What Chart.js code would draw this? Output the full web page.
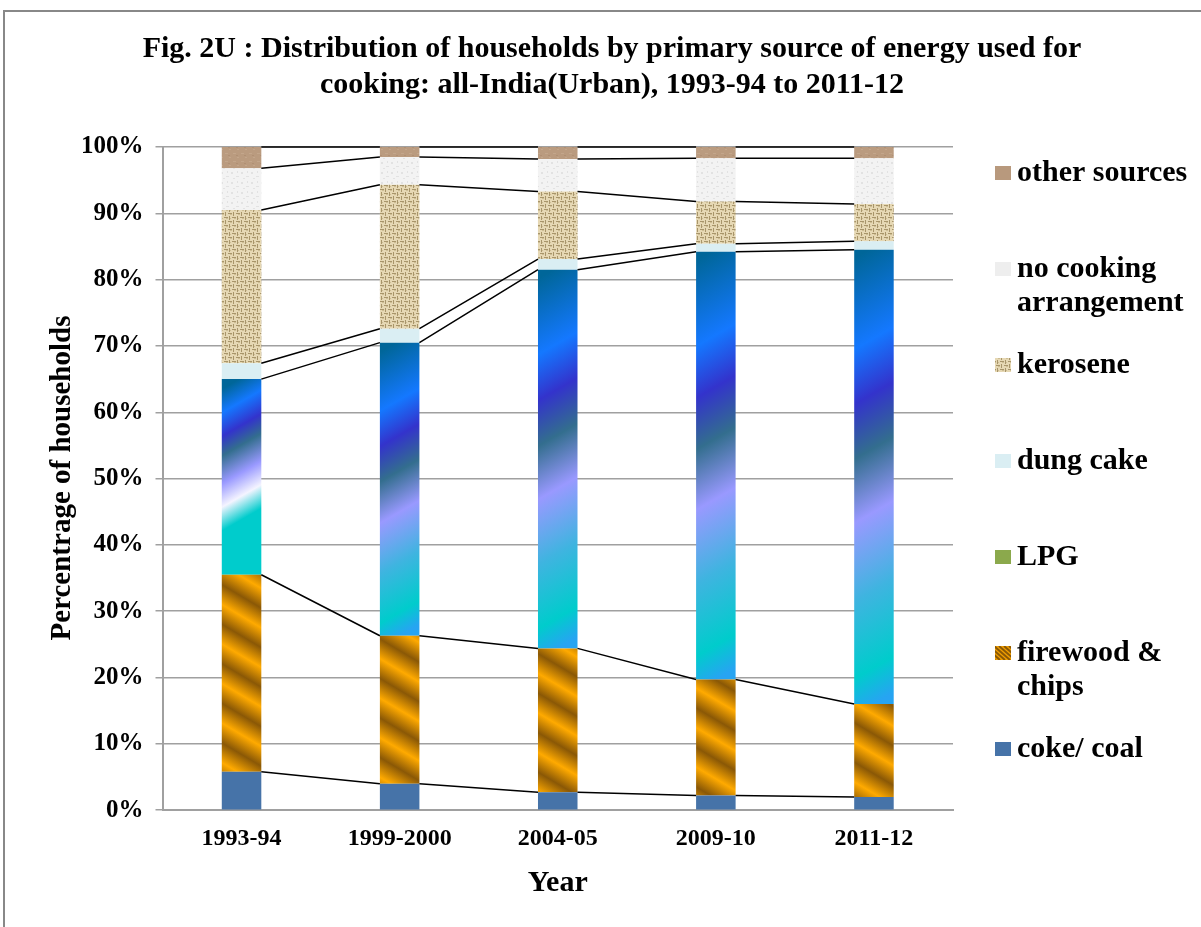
<!DOCTYPE html>
<html>
<head>
<meta charset="utf-8">
<script src="https://cdn.jsdelivr.net/npm/chart.js@4"></script>
<style>
  html, body { margin: 0; padding: 0; background: #fff; }
</style>
</head>
<body>
<canvas id="chart" width="1201" height="927"></canvas>
<script>
// Data (share of households, %)
const years = ['1993-94', '1999-2000', '2004-05', '2009-10', '2011-12'];
const cokeCoal = [5.8, 4.0, 2.7, 2.2, 2.0];
const firewood = [29.7, 22.3, 21.7, 17.5, 14.0];
const lpg = [29.5, 44.2, 57.1, 64.5, 68.5];
const dungCake = [2.4, 2.1, 1.6, 1.2, 1.3];
const kerosene = [23.1, 21.7, 10.2, 6.4, 5.6];
const noCooking = [6.3, 4.2, 4.9, 6.5, 6.9];
const otherSources = [3.2, 1.5, 1.8, 1.7, 1.7];

const seriesNames = ['coke/ coal', 'firewood &\nchips', 'LPG', 'dung cake', 'kerosene', 'no cooking\narrangement', 'other sources'];
const seriesData = [cokeCoal, firewood, lpg, dungCake, kerosene, noCooking, otherSources];
const yTicks = [0, 10, 20, 30, 40, 50, 60, 70, 80, 90, 100];

const FONT = "'Liberation Serif', 'Times New Roman', serif";
const canvas = document.getElementById('chart');
const ctx = canvas.getContext('2d');

// small repeating textures
function makeTile(w, h, base, draw) {
    const c = document.createElement('canvas');
    c.width = w; c.height = h;
    const g = c.getContext('2d');
    g.fillStyle = base;
    g.fillRect(0, 0, w, h);
    draw(g);
    return ctx.createPattern(c, 'repeat');
}

const keroseneFill = makeTile(8, 8, '#E6D8B4', g => {
    g.fillStyle = '#A8956A';
    g.fillRect(0, 1, 4, 1);
    g.fillRect(4, 5, 4, 1);
    g.fillRect(5, 0, 1, 4);
    g.fillRect(1, 4, 1, 4);
    g.fillStyle = '#CDBD94';
    g.fillRect(2, 2, 2, 1);
    g.fillRect(6, 6, 2, 1);
    g.fillRect(6, 2, 1, 1);
});
const noCookingFill = makeTile(10, 10, '#F3F3F3', g => {
    g.fillStyle = '#E2E2E2';
    g.fillRect(1, 2, 2, 2);
    g.fillRect(6, 6, 3, 1);
    g.fillRect(7, 1, 1, 2);
    g.fillRect(3, 8, 2, 1);
});
const otherFill = makeTile(8, 8, '#BA9B7F', g => {
    g.fillStyle = '#C3A68B';
    g.fillRect(1, 1, 3, 1);
    g.fillRect(5, 5, 2, 1);
    g.fillStyle = '#B09074';
    g.fillRect(4, 3, 2, 1);
});

// diagonal gold stripes for firewood
function stripeGradient() {
    const p0 = { x: 1000, y: -100 };
    const n = { x: -0.51, y: 0.86 };
    const len = 1400, period = 34;
    const gr = ctx.createLinearGradient(p0.x, p0.y, p0.x + n.x * len, p0.y + n.y * len);
    for (let s = 0; s < len; s += period) {
        gr.addColorStop(s / len, '#8A5806');
        gr.addColorStop(Math.min(1, (s + period * 0.5) / len), '#FFAA00');
    }
    return gr;
}
const firewoodFill = stripeGradient();

const lpgStops = [[0, '#27A4F2'], [0.08, '#00CCCC'], [0.25, '#3FB4E0'], [0.42, '#9999FF'],
    [0.56, '#336E8E'], [0.68, '#3333CC'], [0.8, '#1478FF'], [1, '#006699']];
const lpgStopsFirst = [[0, '#00CCCC'], [0.28, '#00CCCC'], [0.4, '#F4F4FF'], [0.52, '#9999FF'],
    [0.66, '#336E8E'], [0.76, '#3333CC'], [0.88, '#1478FF'], [1, '#006699']];

function lpgFill(c) {
    const chart = c.chart;
    const ys = chart.scales.y, xs = chart.scales.x;
    if (!ys || !xs || !chart.chartArea) return '#1478FF';
    const i = c.dataIndex;
    const base = cokeCoal[i] + firewood[i];
    const y0 = ys.getPixelForValue(base);
    const y1 = ys.getPixelForValue(base + lpg[i]);
    const xc = xs.getPixelForValue(i);
    const L = (y0 - y1) * 0.87;
    const gr = chart.ctx.createLinearGradient(xc, y0, xc - 0.5 * L, y0 - 0.87 * L);
    (i === 0 ? lpgStopsFirst : lpgStops).forEach(s => gr.addColorStop(s[0], s[1]));
    return gr;
}

const barFills = ['#4673A8', firewoodFill, lpgFill, '#DAEEF3', keroseneFill, noCookingFill, otherFill];
const legendFills = ['#4673A8', 'stripes', '#8BA94C', '#DAEEF3', keroseneFill, '#EEEEEE', '#B8997D'];

// black series lines joining the tops of each segment
const seriesLines = {
    id: 'seriesLines',
    afterDatasetsDraw(chart) {
        const c = chart.ctx;
        c.save();
        c.strokeStyle = '#000';
        c.lineWidth = 1.5;
        chart.data.datasets.forEach((ds, d) => {
            const els = chart.getDatasetMeta(d).data;
            c.beginPath();
            for (let i = 0; i < els.length - 1; i++) {
                const a = els[i], b = els[i + 1];
                c.moveTo(a.x + a.width / 2, a.y);
                c.lineTo(b.x - b.width / 2, b.y);
            }
            c.stroke();
        });
        c.restore();
    }
};

// frame, titles and legend
const decor = {
    id: 'decor',
    beforeDraw(chart) {
        const c = chart.ctx;
        c.save();
        c.fillStyle = '#fff';
        c.fillRect(0, 0, chart.width, chart.height);
        c.strokeStyle = '#888';
        c.lineWidth = 2;
        c.strokeRect(4, 11, 1220, 940);
        c.restore();
    },
    afterDraw(chart) {
        const c = chart.ctx;
        c.save();
        c.fillStyle = '#000';
        c.textAlign = 'center';
        c.textBaseline = 'middle';
        c.font = 'bold 30px ' + FONT;
        c.fillText('Fig. 2U : Distribution of households by primary source of energy used for', 612, 49);
        c.fillText('cooking: all-India(Urban), 1993-94 to 2011-12', 612, 85);

        // y axis title
        c.save();
        c.translate(63, 478);
        c.rotate(-Math.PI / 2);
        c.font = 'bold 29px ' + FONT;
        c.fillText('Percentrage of households', 0, 0);
        c.restore();

        c.textAlign = 'left';
        c.font = 'bold 30px ' + FONT;
        for (let k = 0; k < seriesNames.length; k++) {
            const idx = seriesNames.length - 1 - k;
            const y = 173 + k * 96;
            const fill = legendFills[idx];
            if (fill === 'stripes') {
                c.fillStyle = '#F2A000';
                c.fillRect(995, y - 7, 16, 14);
                c.save();
                c.beginPath();
                c.rect(995, y - 7, 16, 14);
                c.clip();
                c.strokeStyle = '#8A5806';
                c.lineWidth = 2;
                for (let s = -16; s < 20; s += 5) {
                    c.beginPath();
                    c.moveTo(995 + s, y - 7);
                    c.lineTo(995 + s + 16, y + 7);
                    c.stroke();
                }
                c.restore();
            } else {
                c.fillStyle = fill;
                c.fillRect(995, y - 7, 16, 14);
            }
            c.fillStyle = '#000';
            seriesNames[idx].split('\n').forEach((line, j) => {
                c.fillText(line, 1017, y + j * 34);
            });
        }
        c.restore();
    }
};

new Chart(ctx, {
    type: 'bar',
    data: {
        labels: years,
        datasets: seriesData.map((arr, d) => ({
            label: seriesNames[d].replace('\n', ' '),
            data: arr,
            backgroundColor: barFills[d],
            borderWidth: 0,
            barPercentage: 0.25,
            categoryPercentage: 1.0
        }))
    },
    options: {
        responsive: false,
        animation: false,
        events: [],
        layout: { padding: { top: 147, right: 248, left: 69, bottom: 22 } },
        plugins: {
            legend: { display: false },
            title: { display: false },
            tooltip: { enabled: false }
        },
        scales: {
            x: {
                stacked: true,
                grid: { display: false },
                border: { display: true, color: '#A0A0A0', width: 2 },
                ticks: { color: '#000', font: { family: FONT, size: 24, weight: 'bold' }, padding: 6 },
                title: { display: true, text: 'Year', color: '#000', font: { family: FONT, size: 30, weight: 'bold' }, padding: { top: 6, bottom: 4 } }
            },
            y: {
                stacked: true,
                min: 0,
                max: 100,
                afterBuildTicks: axis => { axis.ticks = yTicks.map(v => ({ value: v })); },
                grid: { color: '#A0A0A0', lineWidth: 1.5, tickLength: 7, drawTicks: true },
                border: { display: true, color: '#A0A0A0', width: 2 },
                ticks: {
                    color: '#000',
                    padding: 12,
                    font: { family: FONT, size: 25, weight: 'bold' },
                    callback: v => v + '%'
                }
            }
        }
    },
    plugins: [decor, seriesLines]
});
</script>
</body>
</html>
